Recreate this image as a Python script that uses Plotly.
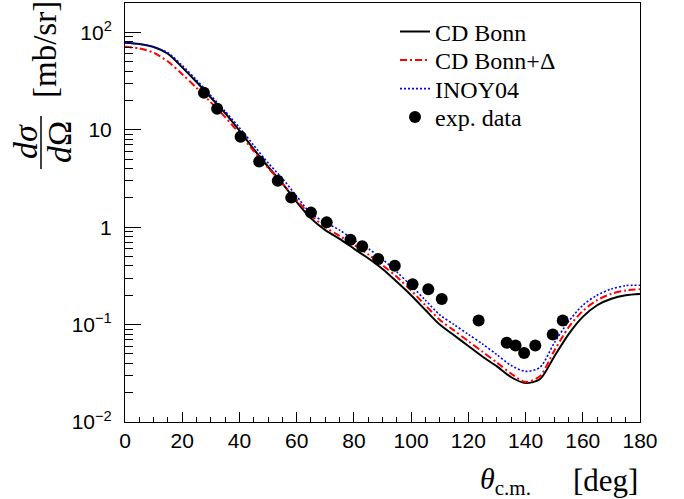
import plotly.graph_objects as go

# ---------------- data ----------------
theta_curve = [0, 5, 10, 15, 20, 25, 30, 35, 40, 45, 50, 55, 60, 65, 70, 75, 80, 85, 90,
               95, 100, 105, 110, 115, 120, 125, 130, 135, 140, 145, 150, 155, 160, 165,
               170, 175, 180]
cd_bonn = [78.2, 75.9, 70.8, 60.3, 43.7, 30.9, 21.4, 14.8, 9.77, 6.31, 4.17, 2.82, 1.82,
           1.23, 0.933, 0.759, 0.603, 0.479, 0.372, 0.275, 0.200, 0.141, 0.100, 0.0776,
           0.0603, 0.0468, 0.0372, 0.0288, 0.0251, 0.0275, 0.0468, 0.0794, 0.120, 0.158,
           0.184, 0.200, 0.206]
cd_bonn_delta = [71.1, 68.4, 61.7, 50.1, 37.2, 26.9, 19.1, 13.5, 9.12, 6.03, 4.07, 2.82,
                 1.90, 1.32, 1.00, 0.813, 0.661, 0.525, 0.407, 0.309, 0.224, 0.158, 0.112,
                 0.0871, 0.0676, 0.0525, 0.0407, 0.0313, 0.0257, 0.0295, 0.0537, 0.0933,
                 0.138, 0.178, 0.207, 0.224, 0.231]
inoy04 = [78.2, 75.9, 70.8, 61.7, 45.7, 32.4, 22.4, 15.5, 10.5, 6.92, 4.57, 3.16, 2.08,
          1.38, 1.12, 0.933, 0.741, 0.603, 0.468, 0.347, 0.251, 0.178, 0.126, 0.100,
          0.0794, 0.0631, 0.0490, 0.0380, 0.0331, 0.0363, 0.0646, 0.107, 0.158, 0.200,
          0.232, 0.251, 0.253]

theta_exp = [27.6, 32.2, 40.4, 46.9, 53.4, 58.1, 65.0, 70.5, 78.8, 82.9, 88.5, 94.3,
             100.5, 106.0, 110.7, 123.6, 133.4, 136.5, 139.5, 143.4, 149.5, 153.0]
xs_exp = [24.0, 16.4, 8.49, 4.71, 2.99, 2.01, 1.41, 1.12, 0.741, 0.638, 0.470, 0.401,
          0.260, 0.231, 0.183, 0.110, 0.065, 0.061, 0.051, 0.061, 0.079, 0.110]
err_exp = [0.7, 0.5, 0.25, 0.14, 0.09, 0.06, 0.04, 0.035, 0.022, 0.02, 0.015, 0.012,
           0.008, 0.007, 0.006, 0.004, 0.003, 0.003, 0.003, 0.003, 0.003, 0.004]

series_names = ["CD Bonn", "CD Bonn+Δ", "INOY04", "exp. data"]
x_ticks = [0, 20, 40, 60, 80, 100, 120, 140, 160, 180]
y_tickvals = [1e-2, 1e-1, 1, 10, 100]
y_ticktext = ["10<sup>−2</sup>", "10<sup>−1</sup>", "1", "10", "10<sup>2</sup>"]

# ---------------- geometry helpers (pixel -> paper) ----------------
W, H = 684, 499
L, R, T, B = 125, 44, 3, 77
PW, PH = W - L - R, H - T - B


def px(x):
    return (x - L) / PW


def py(y):
    return (H - B - y) / PH


SERIF = "Liberation Serif, Times New Roman, serif"
SANS = "Liberation Sans, Arial, Helvetica, sans-serif"

fig = go.Figure()
fig.add_trace(go.Scatter(x=theta_curve, y=cd_bonn, mode="lines", name=series_names[0],
                         legend="legend",
                         line=dict(color="black", width=2, shape="spline",
                                   smoothing=0.8)))
fig.add_trace(go.Scatter(x=theta_curve, y=cd_bonn_delta, mode="lines",
                         name=series_names[1], legend="legend2",
                         line=dict(color="#ff0000", width=2, dash="7px,3px,2px,3px",
                                   shape="spline", smoothing=0.8)))
fig.add_trace(go.Scatter(x=theta_curve, y=inoy04, mode="lines", name=series_names[2],
                         legend="legend3",
                         line=dict(color="#0000ff", width=1.6, dash="2px,2px",
                                   shape="spline", smoothing=0.8)))
fig.add_trace(go.Scatter(x=theta_exp, y=xs_exp, mode="markers", name=series_names[3],
                         legend="legend4",
                         marker=dict(color="black", size=12),
                         error_y=dict(type="data", array=err_exp, color="black",
                                      thickness=1, width=3)))

minor_y = [m * 10 ** e for e in range(-2, 3) for m in range(2, 10)]


def leg(row_y):
    return dict(x=px(395), y=py(row_y), xanchor="left", yanchor="middle",
                font=dict(family=SERIF, size=24, color="black"),
                bgcolor="rgba(0,0,0,0)", itemwidth=30, borderwidth=0)


fig.update_layout(
    width=W, height=H, autosize=False,
    margin=dict(l=L, r=R, t=T, b=B),
    paper_bgcolor="white", plot_bgcolor="white",
    showlegend=True,
    legend=leg(32), legend2=leg(60.5), legend3=leg(89), legend4=leg(117.5),
    xaxis=dict(range=[0, 180], tickvals=x_ticks, ticks="inside", ticklen=10,
               tickcolor="black", showline=True, linecolor="black", linewidth=1,
               mirror=True, showgrid=False, zeroline=False,
               tickfont=dict(family=SANS, size=21, color="black"),
               minor=dict(dtick=5, ticks="inside", ticklen=5, tickcolor="black",
                          showgrid=False)),
    yaxis=dict(type="log", range=[-2, 2.301], tickvals=y_tickvals, ticktext=y_ticktext,
               ticks="inside", ticklen=16, tickcolor="black", showline=True,
               linecolor="black", linewidth=1, mirror=True, showgrid=False,
               zeroline=False, tickfont=dict(family=SANS, size=21, color="black"),
               ticklabelstandoff=8,
               minor=dict(tickvals=minor_y, ticks="inside", ticklen=8,
                          tickcolor="black", showgrid=False)),
    annotations=[
        dict(x=px(533), y=py(481), xref="paper", yref="paper", xanchor="right",
             yanchor="middle", showarrow=False,
             text="<i>θ</i><sub>c.m.</sub>",
             font=dict(family=SERIF, size=30, color="black")),
        dict(x=px(640), y=py(480), xref="paper", yref="paper", xanchor="right",
             yanchor="middle", showarrow=False, text="[deg]",
             font=dict(family=SERIF, size=31, color="black")),
        dict(x=px(45), y=py(50), xref="paper", yref="paper", xanchor="center",
             yanchor="middle", showarrow=False, text="[mb/sr]", textangle=-90,
             font=dict(family=SERIF, size=33, color="black")),
        dict(x=px(25), y=py(142), xref="paper", yref="paper", xanchor="center",
             yanchor="middle", showarrow=False, text="<i>dσ</i>", textangle=-90,
             font=dict(family=SERIF, size=34, color="black")),
        dict(x=px(59), y=py(142), xref="paper", yref="paper", xanchor="center",
             yanchor="middle", showarrow=False, text="<i>d</i>Ω", textangle=-90,
             font=dict(family=SERIF, size=34, color="black")),
    ],
    shapes=[dict(type="line", xref="paper", yref="paper", x0=px(41), x1=px(41),
                 y0=py(116), y1=py(169), line=dict(color="black", width=1.5))],
)

fig.write_html("out.html",
               config={"displayModeBar": False},
               post_script="document.body.style.margin='0';"
                           "document.body.style.overflow='hidden';")
